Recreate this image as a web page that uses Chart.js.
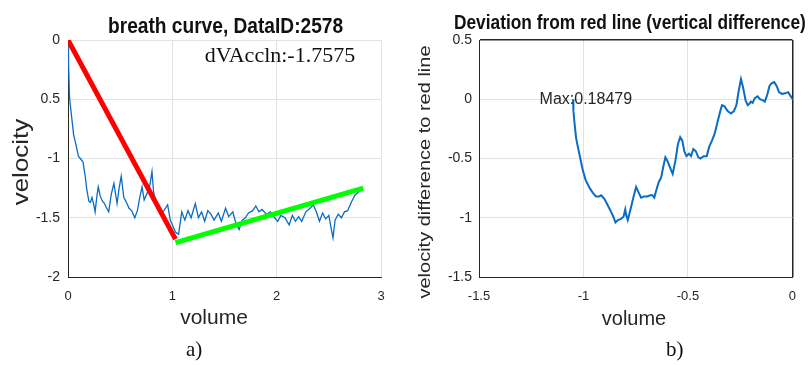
<!DOCTYPE html>
<html>
<head>
<meta charset="utf-8">
<script src="https://cdn.jsdelivr.net/npm/chart.js@4"></script>
<style>
  body { margin: 0; background: #fff; }
  #wrap { position: relative; width: 808px; height: 365px; overflow: hidden; }
  canvas { position: absolute; top: 0; }
  #leftChart { left: 0; }
  #rightChart { left: 404px; }
  .caption { position: absolute; top: 337px; font: 21px "Liberation Serif", "Times New Roman", serif; color: #111; }
</style>
</head>
<body>
<div id="wrap">
  <canvas id="leftChart" width="404" height="365"></canvas>
  <canvas id="rightChart" width="404" height="365"></canvas>
  <div class="caption" style="left:186px">a)</div>
  <div class="caption" style="left:666px">b)</div>
</div>
<script>
// Left plot: breath curve
const breathVolume = [0, 0.005, 0.015, 0.035, 0.054, 0.07, 0.1, 0.118, 0.144, 0.165, 0.18, 0.2, 0.215, 0.23, 0.245, 0.26,
    0.275, 0.29, 0.31, 0.33, 0.35, 0.365, 0.39, 0.415, 0.44, 0.47, 0.49, 0.51, 0.535, 0.56, 0.585, 0.61, 0.64, 0.665,
    0.69, 0.71, 0.73, 0.76, 0.78, 0.805, 0.82, 0.85, 0.885, 0.92, 0.955, 0.98, 1.0, 1.03, 1.06, 1.09, 1.12, 1.15, 1.18,
    1.22, 1.25, 1.28, 1.31, 1.34, 1.37, 1.4, 1.44, 1.47, 1.51, 1.54, 1.58, 1.61, 1.64, 1.67, 1.7, 1.73, 1.77, 1.8, 1.83,
    1.86, 1.9, 1.94, 1.98, 2.01, 2.04, 2.08, 2.12, 2.15, 2.18, 2.21, 2.24, 2.28, 2.32, 2.35, 2.38, 2.41, 2.44, 2.47, 2.5,
    2.52, 2.54, 2.56, 2.59, 2.62, 2.65, 2.68, 2.72, 2.75, 2.8];
const breathVelocity = [0, -0.2, -0.49, -0.65, -0.8, -0.86, -0.98, -1.0, -1.03, -1.15, -1.26, -1.36, -1.37, -1.33, -1.38, -1.45,
    -1.33, -1.24, -1.32, -1.36, -1.38, -1.41, -1.45, -1.3, -1.21, -1.38, -1.25, -1.15, -1.33, -1.37, -1.42, -1.44, -1.5, -1.44,
    -1.32, -1.24, -1.35, -1.29, -1.25, -1.11, -1.28, -1.4, -1.47, -1.44, -1.39, -1.52, -1.56, -1.62, -1.64, -1.45, -1.52, -1.44, -1.5,
    -1.38, -1.5, -1.45, -1.53, -1.44, -1.47, -1.52, -1.46, -1.53, -1.42, -1.49, -1.45, -1.55, -1.6, -1.52, -1.5, -1.46, -1.44, -1.4, -1.45,
    -1.43, -1.47, -1.45, -1.5, -1.53, -1.48, -1.5, -1.56, -1.48, -1.53, -1.49, -1.53, -1.45, -1.42, -1.39, -1.45, -1.53, -1.46, -1.51, -1.48,
    -1.58, -1.67, -1.52, -1.47, -1.5, -1.45, -1.44, -1.36, -1.31, -1.27];
const redLineX = [0, 1.03];
const redLineY = [0, -1.68];
const greenLineX = [1.03, 2.83];
const greenLineY = [-1.71, -1.25];
const breathXTicks = [0, 1, 2, 3];
const breathXTickLabels = ['0', '1', '2', '3'];
const breathYTicks = [0, -0.5, -1, -1.5, -2];
const breathYTickLabels = ['0', '0.5', '-1', '-1.5', '-2'];

// Right plot: deviation from red line
const devVolume = [-1.05, -1.048, -1.043, -1.035, -1.027, -1.015, -1.003, -0.99, -0.97, -0.955, -0.94, -0.925, -0.915, -0.9,
    -0.885, -0.868, -0.855, -0.847, -0.835, -0.82, -0.808, -0.8, -0.795, -0.788, -0.775, -0.76, -0.748, -0.738, -0.724, -0.71,
    -0.695, -0.68, -0.67, -0.661, -0.65, -0.64, -0.628, -0.618, -0.608, -0.598, -0.585, -0.573, -0.56, -0.548, -0.537, -0.527,
    -0.517, -0.507, -0.495, -0.485, -0.474, -0.462, -0.45, -0.44, -0.425, -0.41, -0.398, -0.385, -0.372, -0.358, -0.345, -0.337,
    -0.325, -0.31, -0.294, -0.28, -0.268, -0.256, -0.246, -0.236, -0.224, -0.214, -0.207, -0.198, -0.19, -0.18, -0.167, -0.155,
    -0.14, -0.132, -0.12, -0.11, -0.1, -0.087, -0.075, -0.064, -0.05, -0.035, -0.02, -0.01, 0];
const devDiff = [0.0, -0.1, -0.2, -0.33, -0.4, -0.5, -0.6, -0.68, -0.75, -0.79, -0.82, -0.82, -0.81, -0.84,
    -0.89, -0.95, -1.0, -1.04, -1.02, -1.01, -0.99, -0.93, -0.98, -1.02, -0.93, -0.82, -0.74, -0.78, -0.83, -0.82,
    -0.82, -0.81, -0.81, -0.83, -0.76, -0.7, -0.66, -0.57, -0.49, -0.52, -0.58, -0.63, -0.52, -0.38, -0.32, -0.35,
    -0.44, -0.48, -0.46, -0.48, -0.42, -0.44, -0.49, -0.5, -0.48, -0.48, -0.4, -0.35, -0.29, -0.19, -0.1, -0.05,
    -0.06, -0.1, -0.12, -0.1, -0.05, 0.08, 0.17, 0.1, -0.01, -0.05, -0.04, -0.02, -0.03, 0.01, 0.025, 0.0,
    -0.01, -0.02, 0.04, 0.11, 0.135, 0.145, 0.11, 0.06, 0.045, 0.05, 0.06, 0.03, 0.005];
const devXTicks = [-1.5, -1, -0.5, 0];
const devXTickLabels = ['-1.5', '-1', '-0.5', '0'];
const devYTicks = [0.5, 0, -0.5, -1, -1.5];
const devYTickLabels = ['0.5', '0', '-0.5', '-1', '-1.5'];

const axisColor = '#262626';
const gridColor = '#e2e2e2';
const sans = '"Liberation Sans", Arial, sans-serif';

function toPoints(xs, ys) {
    return xs.map((x, i) => ({ x: x, y: ys[i] }));
}

// fixed tick positions + labels taken from the arrays above
function fixedTicks(values, labels) {
    return {
        afterBuildTicks: s => { s.ticks = values.map(v => ({ value: v })); },
        callback: v => labels[values.indexOf(v)]
    };
}

// Draws titles, axis labels and annotations
function textPlugin(items) {
    return {
        id: 'texts',
        afterDraw(chart) {
            const ctx = chart.ctx;
            items.forEach(t => {
                let x = t.x, y = t.y;
                if (t.data) {
                    x = chart.scales.x.getPixelForValue(t.data[0]);
                    y = chart.scales.y.getPixelForValue(t.data[1]);
                }
                ctx.save();
                ctx.font = t.font;
                ctx.fillStyle = t.color || axisColor;
                ctx.textAlign = t.align || 'left';
                ctx.textBaseline = t.baseline || 'alphabetic';
                ctx.translate(x, y);
                if (t.rotate) ctx.rotate(t.rotate);
                ctx.scale(t.sx || 1, t.sy || 1);
                ctx.fillText(t.text, 0, 0);
                ctx.restore();
            });
        }
    };
}

const lineStyle = { showLine: true, pointRadius: 0, tension: 0 };
const bxt = fixedTicks(breathXTicks, breathXTickLabels);
const byt = fixedTicks(breathYTicks, breathYTickLabels);
const dxt = fixedTicks(devXTicks, devXTickLabels);
const dyt = fixedTicks(devYTicks, devYTickLabels);

new Chart(document.getElementById('leftChart'), {
    type: 'scatter',
    data: {
        datasets: [
            { ...lineStyle, data: toPoints(redLineX, redLineY), borderColor: '#ff0000', borderWidth: 5 },
            { ...lineStyle, data: toPoints(greenLineX, greenLineY), borderColor: '#00ff00', borderWidth: 5 },
            { ...lineStyle, data: toPoints(breathVolume, breathVelocity), borderColor: '#0a6cc4', borderWidth: 1.3 }
        ]
    },
    options: {
        responsive: false,
        animation: false,
        layout: { padding: { top: 40, right: 23, left: 0, bottom: 0 } },
        plugins: { legend: { display: false }, tooltip: { enabled: false } },
        scales: {
            x: {
                type: 'linear', min: 0, max: 3,
                afterBuildTicks: bxt.afterBuildTicks,
                ticks: { padding: 12, color: axisColor, font: { family: sans, size: 13 }, callback: bxt.callback },
                grid: { color: gridColor, drawTicks: false },
                border: { color: axisColor },
                afterFit: s => { s.height = 88; }
            },
            y: {
                min: -2, max: 0,
                afterBuildTicks: byt.afterBuildTicks,
                ticks: { padding: 8, color: axisColor, font: { family: sans, size: 14 }, callback: byt.callback },
                grid: { color: gridColor, drawTicks: false },
                border: { color: axisColor },
                afterFit: s => { s.width = 68; }
            }
        }
    },
    plugins: [textPlugin([
        { text: 'breath curve, DataID:2578', x: 108, y: 33, font: 'bold 22px ' + sans, color: '#111', sx: 0.87 },
        { text: 'dVAccln:-1.7575', data: [1.31, -0.14], baseline: 'middle', font: '22px "Liberation Serif", serif', color: '#111' },
        { text: 'velocity', x: 22, y: 162, align: 'center', baseline: 'middle', rotate: -Math.PI / 2, font: '26px ' + sans, sy: 0.87 },
        { text: 'volume', x: 214, y: 324, align: 'center', font: '21px ' + sans }
    ])]
});

new Chart(document.getElementById('rightChart'), {
    type: 'scatter',
    data: {
        datasets: [
            { ...lineStyle, data: toPoints(devVolume, devDiff), borderColor: '#0a6cc4', borderWidth: 2 }
        ]
    },
    options: {
        responsive: false,
        animation: false,
        layout: { padding: { top: 40, right: 15, left: 0, bottom: 0 } },
        plugins: { legend: { display: false }, tooltip: { enabled: false } },
        scales: {
            x: {
                type: 'linear', min: -1.5, max: 0,
                afterBuildTicks: dxt.afterBuildTicks,
                ticks: { padding: 12, color: axisColor, font: { family: sans, size: 13 }, callback: dxt.callback },
                grid: {
                    drawTicks: false,
                    color: c => (c.tick && c.tick.value === 0 ? axisColor : gridColor),
                    lineWidth: c => (c.tick && c.tick.value === 0 ? 1.5 : 1)
                },
                border: { color: axisColor },
                afterFit: s => { s.height = 88; }
            },
            y: {
                min: -1.5, max: 0.5,
                afterBuildTicks: dyt.afterBuildTicks,
                ticks: { padding: 7, color: axisColor, font: { family: sans, size: 14 }, callback: dyt.callback },
                grid: {
                    drawTicks: false,
                    color: c => (c.tick && c.tick.value === 0.5 ? axisColor : gridColor),
                    lineWidth: c => (c.tick && c.tick.value === 0.5 ? 1.5 : 1)
                },
                border: { color: axisColor },
                afterFit: s => { s.width = 75; }
            }
        }
    },
    plugins: [textPlugin([
        { text: 'Deviation from red line (vertical difference)', x: 50, y: 29, font: 'bold 20px ' + sans, color: '#111', sx: 0.865 },
        { text: 'Max:0.18479', data: [-1.21, 0], baseline: 'middle', font: '16px ' + sans },
        { text: 'velocity difference to red line', x: 21, y: 172, align: 'center', baseline: 'middle', rotate: -Math.PI / 2, font: '20px ' + sans, sy: 0.87 },
        { text: 'volume', x: 230, y: 325, align: 'center', font: '20px ' + sans }
    ])]
});
</script>
</body>
</html>
